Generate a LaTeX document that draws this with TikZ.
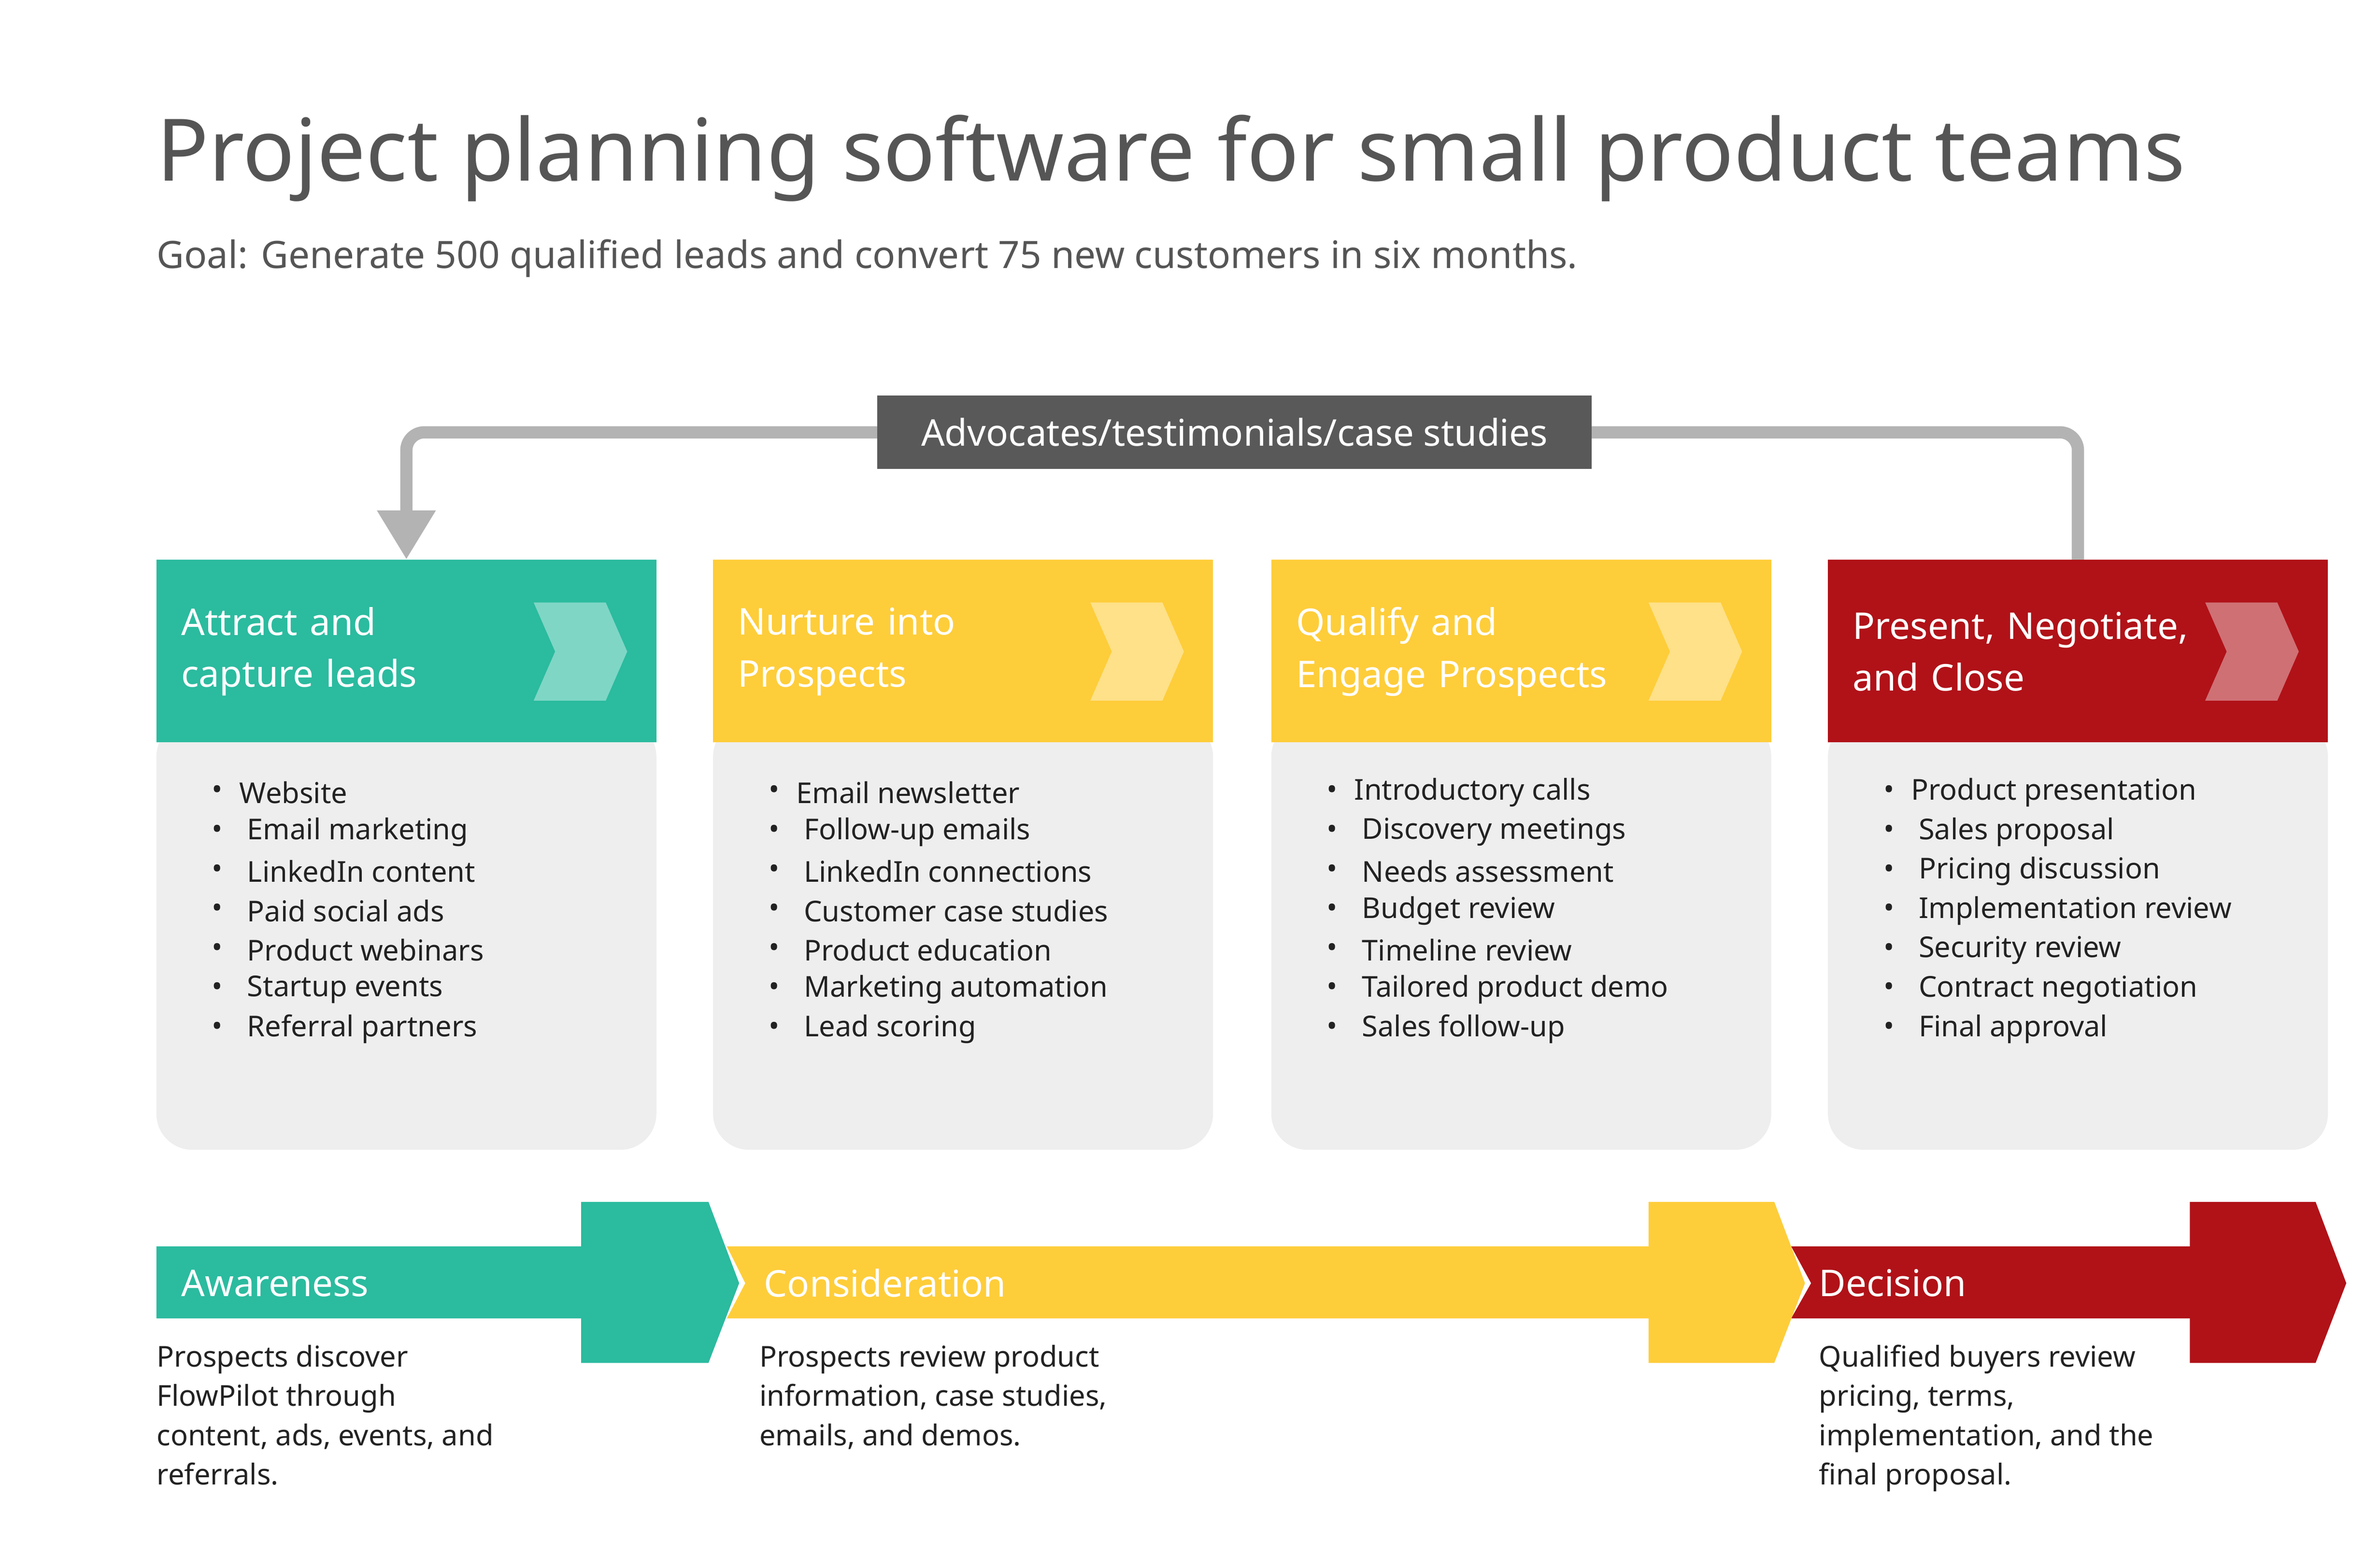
\documentclass[tikz,border=0pt]{standalone}
\usepackage{fontspec}
\setmainfont{Noto Sans}
\usetikzlibrary{arrows.meta}
\definecolor{teal1}{HTML}{2BBB9F}
\definecolor{yell1}{HTML}{FECD3A}
\definecolor{red1}{HTML}{B01218}
\definecolor{txtgray}{HTML}{555555}
\definecolor{bodygray}{HTML}{EEEEEE}
\definecolor{linegray}{HTML}{B3B3B3}
\definecolor{labelgray}{HTML}{595959}
\definecolor{ink}{HTML}{222222}
\tikzset{
  head/.style={anchor=west,text=white,font=\fontsize{20.5}{29}\selectfont\bfseries,align=left},
  item/.style={anchor=west,text=ink,font=\fontsize{16}{22}\selectfont,inner sep=0pt},
  desc/.style={anchor=north west,text=ink,font=\fontsize{16}{21.9}\selectfont,align=left,inner sep=0pt},
  stage/.style={anchor=west,text=white,font=\fontsize{20.5}{24}\selectfont\bfseries,inner sep=0pt},
}
\newcommand{\chev}[2]{%
  \fill[white,opacity=0.4] (#1+246,#2+28) -- (#1+293,#2+28) -- (#1+307,#2+60) --
    (#1+293,#2+92) -- (#1+246,#2+92) -- (#1+260,#2+60) -- cycle;}
\begin{document}
\begin{tikzpicture}[x=0.03cm,y=-0.03cm]
  \useasboundingbox[fill=white] (0,0) rectangle (1552,1022.5);
  % title
  \node[anchor=base west,inner sep=0pt,text=txtgray,font=\fontsize{48}{56}\selectfont\bfseries]
    (title) at (102,118) {Project planning software for small product teams};
  \node[anchor=base west,inner sep=0pt,text=txtgray,font=\fontsize{21}{26}\selectfont]
    (goal) at (102,175) {Goal: Generate 500 qualified leads and convert 75 new customers in six months.};
  % columns
  \foreach \x/\c/\t/\n in {102/teal1/{Attract and\\capture leads}/attract,
                           465/yell1/{Nurture into\\Prospects}/nurture,
                           829/yell1/{Qualify and\\Engage Prospects}/qualify,
                           1192/red1/{Present, Negotiate,\\and Close}/close} {
    \fill[bodygray,rounded corners=20] (\x,470) -- (\x,750) -- (\x+326,750) -- (\x+326,470) -- cycle;
    \fill[\c] (\x,365) rectangle (\x+326,484);
    \coordinate (\n top) at (\x+163,365);
    \chev{\x}{365}
    \node[head,inner sep=0pt,text width=300] (\n) at (\x+16,425) {\t};
  }
  % feedback loop
  \coordinate (loopR) at (1355,365);
  \coordinate (loopL) at (265,365);
  \draw[linegray,line width=8*0.853pt,rounded corners=10,-{Triangle[length=32*0.853pt,width=36*0.853pt]}]
    (loopR) -- (1355,282) -- (265,282) -- (loopL);
  \node[fill=labelgray,text=white,font=\fontsize{20.5}{24}\selectfont\bfseries,
    minimum width=466*0.853pt,minimum height=48*0.853pt,inner sep=0pt] (loop) at (805,282)
    {Advocates/testimonials/case studies};
  % bullet lists
  \foreach \x/\items in {102/{Website,Email marketing,LinkedIn content,Paid social ads,Product webinars,Startup events,Referral partners},
    465/{Email newsletter,Follow-up emails,LinkedIn connections,Customer case studies,Product education,Marketing automation,Lead scoring},
    829/{Introductory calls,Discovery meetings,Needs assessment,Budget review,Timeline review,Tailored product demo,Sales follow-up},
    1192/{Product presentation,Sales proposal,Pricing discussion,Implementation review,Security review,Contract negotiation,Final approval}} {
    \foreach \it [count=\i] in \items {
      \pgfmathsetmacro{\yy}{517+(\i-1)*25.7}
      \pgfmathsetmacro{\xx}{\i==1 ? \x+54 : \x+59}
      \node[item] (bul\x-\i) at (\x+36,\yy) {\textbullet};
      \node[item] (it\x-\i) at (\xx,\yy) {\it};
    }
  }
  % stage arrows
  \fill[red1] (1168,813) -- (1428,813) -- (1428,784) -- (1510,784) -- (1530,837) -- (1510,889) --
    (1428,889) -- (1428,860) -- (1168,860) -- (1181,837) -- cycle;
  \fill[yell1] (474,813) -- (1075,813) -- (1075,784) -- (1157,784) -- (1177,837) -- (1157,889) --
    (1075,889) -- (1075,860) -- (474,860) -- (486,837) -- cycle;
  \fill[teal1] (102,813) -- (379,813) -- (379,784) -- (462,784) -- (482,837) -- (462,889) --
    (379,889) -- (379,860) -- (102,860) -- cycle;
  \node[stage] (aware) at (118,837) {Awareness};
  \node[stage] (consid) at (498,837) {Consideration};
  \node[stage] (decide) at (1186,837) {Decision};
  % stage descriptions
  \node[desc] (awaretxt) at (102,877) {Prospects discover\\FlowPilot through\\content, ads, events, and\\referrals.};
  \node[desc] (considtxt) at (495,877) {Prospects review product\\information, case studies,\\emails, and demos.};
  \node[desc] (decidetxt) at (1186,877) {Qualified buyers review\\pricing, terms,\\implementation, and the\\final proposal.};
\end{tikzpicture}
\end{document}
